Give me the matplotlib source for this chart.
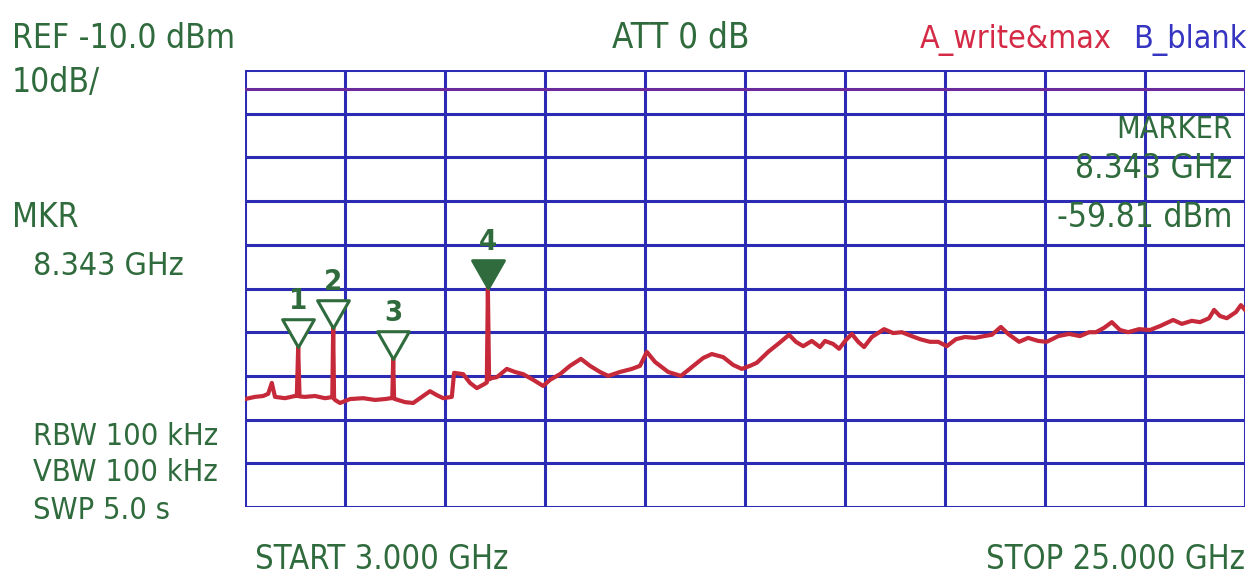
import matplotlib
matplotlib.use("Agg")
import matplotlib.pyplot as plt
from matplotlib.path import Path

# trace (GHz, dBm)
freq_ghz = [3.00, 3.22, 3.40, 3.51, 3.59, 3.66, 3.88, 4.10, 4.14, 4.17, 4.20,
            4.32, 4.54, 4.76, 4.89, 4.92, 4.94, 4.96, 4.98, 5.09, 5.31, 5.60,
            5.86, 6.08, 6.21, 6.24, 6.26, 6.28, 6.30, 6.52, 6.70, 6.89, 7.07,
            7.22, 7.36, 7.55, 7.60, 7.80, 7.95, 8.10, 8.26, 8.32, 8.343, 8.37,
            8.43, 8.54, 8.76, 8.94, 9.12, 9.34, 9.56, 9.71, 9.93, 10.15, 10.39,
            10.59, 10.81, 10.99, 11.25, 11.51, 11.69, 11.84, 12.02, 12.31,
            12.59, 12.83, 13.08, 13.27, 13.52, 13.74, 13.93, 14.11, 14.26,
            14.51, 14.75, 14.97, 15.12, 15.28, 15.47, 15.65, 15.76, 15.94,
            16.07, 16.22, 16.35, 16.49, 16.62, 16.79, 17.06, 17.26, 17.45,
            17.67, 17.85, 18.07, 18.25, 18.44, 18.64, 18.84, 19.06, 19.26,
            19.43, 19.63, 19.79, 20.03, 20.23, 20.45, 20.64, 20.89, 21.13,
            21.37, 21.57, 21.72, 21.90, 22.07, 22.25, 22.43, 22.67, 22.91,
            23.13, 23.42, 23.61, 23.83, 24.01, 24.21, 24.32, 24.45, 24.60,
            24.80, 24.91, 25.00]
level_dbm = [-85.3, -84.8, -84.6, -84.1, -81.6, -84.8, -85.1, -84.6, -84.6,
             -73.4, -84.7, -84.8, -84.6, -85.1, -84.9, -84.9, -69.0, -85.2,
             -85.5, -86.2, -85.3, -85.1, -85.5, -85.3, -85.1, -85.1, -76.1,
             -85.2, -85.3, -86.0, -86.2, -84.8, -83.5, -84.4, -85.1, -84.8,
             -79.3, -79.6, -81.6, -82.8, -81.9, -81.5, -59.81, -80.8, -80.5,
             -80.3, -78.4, -79.1, -79.6, -80.9, -82.3, -80.9, -79.6, -77.7,
             -76.1, -77.7, -79.1, -80.0, -79.1, -78.4, -77.7, -74.5, -76.8,
             -79.1, -80.0, -78.0, -75.9, -75.0, -75.7, -77.5, -78.4, -77.7,
             -77.0, -74.5, -72.5, -70.6, -72.2, -73.2, -72.0, -73.4, -72.0,
             -72.7, -73.8, -71.8, -70.4, -72.2, -73.4, -71.1, -69.3, -70.2,
             -70.0, -70.9, -71.6, -72.2, -72.2, -73.2, -71.6, -71.1, -71.3,
             -70.9, -70.6, -68.8, -70.4, -72.2, -71.3, -72.0, -72.2, -70.9,
             -70.4, -70.9, -70.0, -70.0, -69.0, -67.7, -69.5, -70.0, -69.3,
             -69.5, -68.6, -67.2, -68.1, -67.4, -67.7, -66.8, -64.9, -66.3,
             -66.8, -65.4, -63.8, -64.9]

marker_ids = ["1", "2", "3", "4"]
marker_freq = [4.17, 4.94, 6.26, 8.343]
marker_level = [-73.4, -69.0, -76.1, -59.81]
active_marker = "4"

ref_level = -10.0
db_per_div = 10.0
start_ghz = 3.0
stop_ghz = 25.0
display_line = -14.3

GREEN = "#2f6b3c"
GRID = "#2b2bb4"
TRACE = "#c62a3a"
FONT = ["DejaVu Sans"]

fig = plt.figure(figsize=(12.51, 5.79), dpi=100)
fig.patch.set_facecolor("white")
ax = fig.add_axes([245 / 1251, 72 / 579, 1000 / 1251, 437 / 579])

# graticule: 10 x 10 divisions
span = stop_ghz - start_ghz
for i in range(11):
    ax.axvline(start_ghz + i * span / 10, color=GRID, lw=2.2, zorder=1)
    ax.axhline(ref_level - i * db_per_div, color=GRID, lw=2.2, zorder=1)
ax.axhline(display_line, color="#6a2c9c", lw=2.2, zorder=1)

ax.plot(freq_ghz, level_dbm, color=TRACE, lw=3.0, zorder=3)

# marker triangles, tip sitting on the peak
tri = Path([(-1.0, 1.75), (1.0, 1.75), (0.0, 0.0), (-1.0, 1.75)],
           [Path.MOVETO, Path.LINETO, Path.LINETO, Path.CLOSEPOLY])
for mid, f, lvl in zip(marker_ids, marker_freq, marker_level):
    face = GREEN if mid == active_marker else "white"
    ax.plot([f], [lvl], marker=tri, markersize=40, markerfacecolor=face,
            markeredgecolor=GREEN, markeredgewidth=2.2, zorder=4)
    ax.annotate(mid, (f, lvl), xytext=(0, 23), textcoords="offset points",
                ha="center", va="bottom", color=GREEN, fontsize=21,
                fontweight="bold", family=FONT, fontstretch="condensed",
                zorder=5)

ax.set_xlim(start_ghz, stop_ghz)
ax.set_ylim(ref_level - 10 * db_per_div, ref_level)
ax.set_xticks([])
ax.set_yticks([])
for s in ax.spines.values():
    s.set_visible(False)

# screen annotations (pixel positions from the top-left corner)
def label(x, y, s, color=GREEN, ha="left", size=24):
    fig.text(x / 1251, 1 - y / 579, s, color=color, ha=ha, va="baseline",
             fontsize=size, family=FONT, fontstretch="condensed")

label(12, 48, "REF -10.0 dBm")
label(12, 92, "10dB/")
label(612, 48, "ATT 0 dB", size=25)
label(1112, 48, "A_write&max", color="#d42a45", ha="right", size=23)
label(1247, 48, "B_blank", color="#3535c2", ha="right", size=23)
label(1232, 138, "MARKER", ha="right", size=22)
label(1232, 178, "8.343 GHz", ha="right")
label(1232, 227, "-59.81 dBm", ha="right")
label(12, 227, "MKR")
label(33, 275, "8.343 GHz", size=23)
label(33, 445, "RBW 100 kHz", size=22)
label(33, 481, "VBW 100 kHz", size=22)
label(33, 519, "SWP 5.0 s", size=22)
label(255, 569, "START 3.000 GHz", size=23.5)
label(1245, 569, "STOP 25.000 GHz", ha="right", size=23.5)

fig.savefig("out.png", dpi=100, facecolor="white")
